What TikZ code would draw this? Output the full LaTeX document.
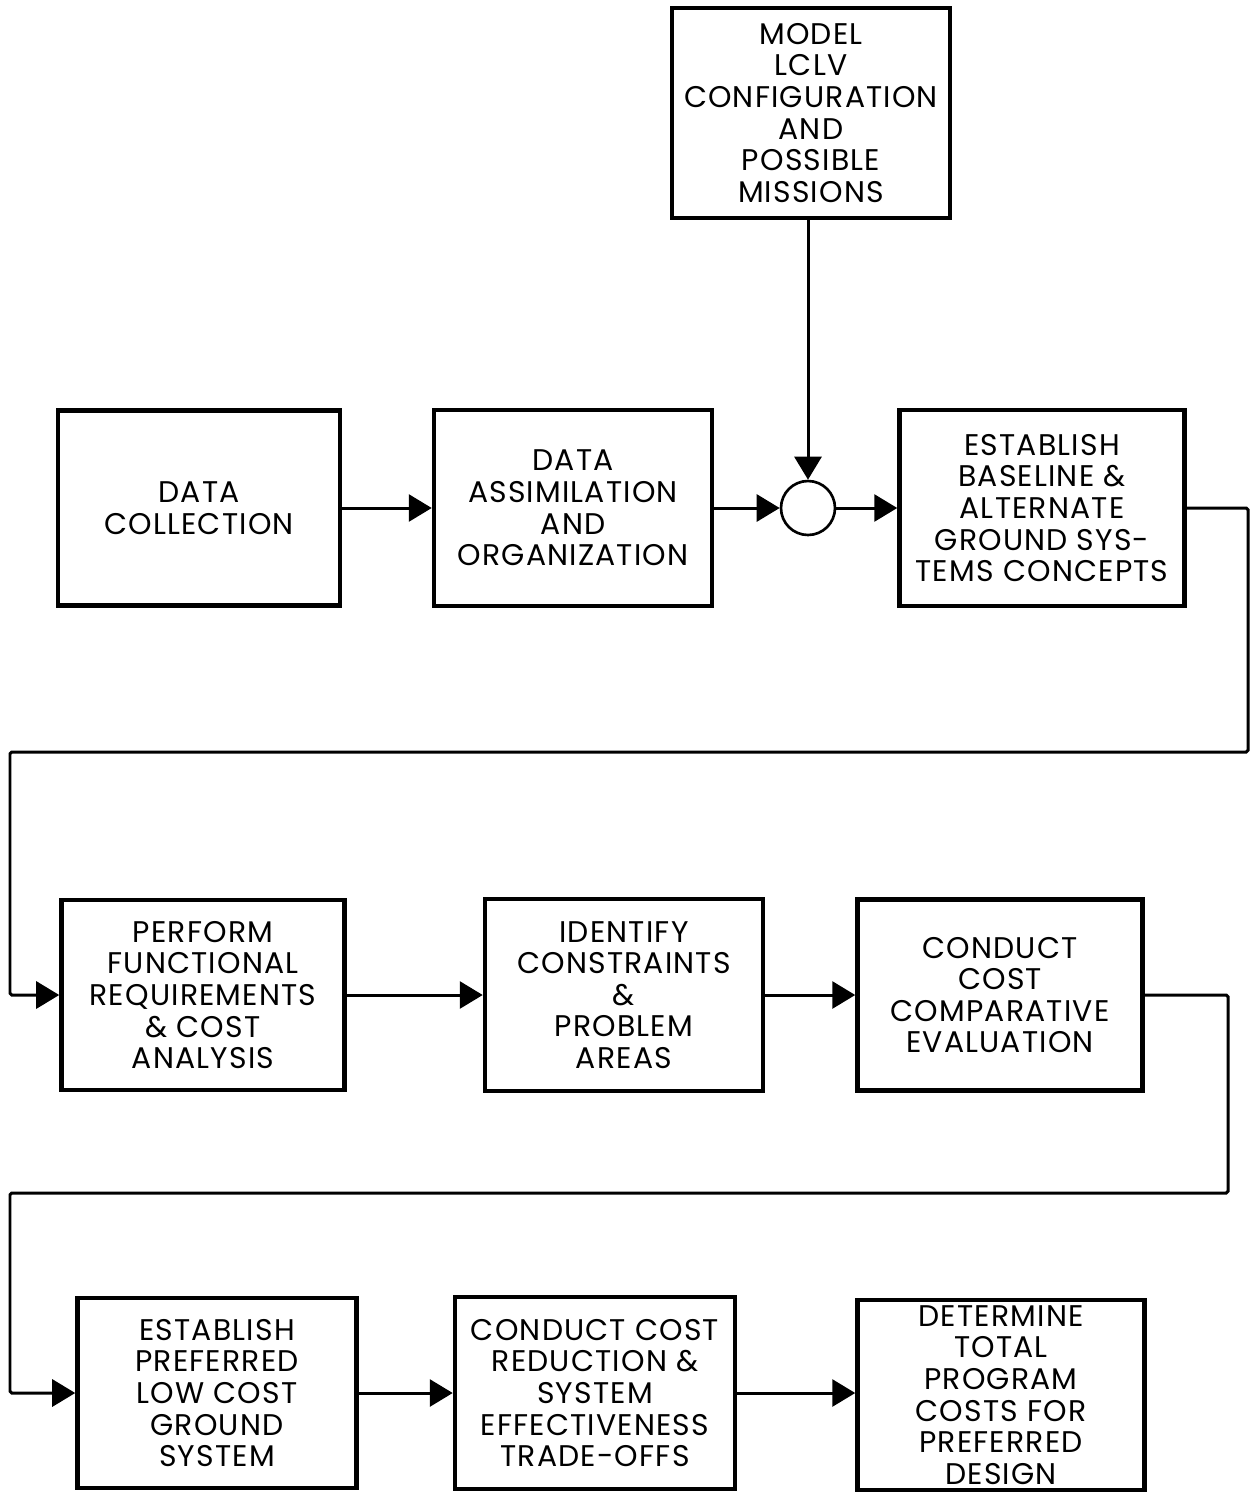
\documentclass[tikz,border=0pt]{standalone}
\usepackage{fontspec}
\setmainfont{Poppins}[LetterSpace=4]
\usetikzlibrary{arrows.meta}

\tikzset{
  blk/.style={draw, line width=2.6pt, align=center, inner sep=0pt,
    font=\fontsize{17}{18}\selectfont},
  sumpt/.style={draw, circle, line width=1.5pt, minimum size=1.08cm, inner sep=0pt},
  flow/.style={line width=1.7pt, -{Triangle[length=0.46cm,width=0.54cm]}},
}

\begin{document}
\begin{tikzpicture}[x=0.02cm, y=-0.02cm]
    \useasboundingbox (0,0) rectangle (1259,1495);
    % Top input
    \node[blk, minimum width=5.56cm, minimum height=4.2cm] (model) at (811,113)
        {MODEL\\LCLV\\CONFIGURATION\\AND\\POSSIBLE\\MISSIONS};
    % Row 1
    \node[blk, minimum width=5.64cm, minimum height=3.9cm] (dcoll) at (199,508)
        {DATA\\COLLECTION};
    \node[blk, minimum width=5.56cm, minimum height=3.92cm] (dassim) at (573,508)
        {DATA\\ASSIMILATION\\AND\\ORGANIZATION};
    \node[sumpt] (sum) at (808,508) {};
    \node[blk, minimum width=5.7cm, minimum height=3.92cm] (base) at (1042,508)
        {ESTABLISH\\BASELINE \&\\ALTERNATE\\GROUND SYS-\\TEMS CONCEPTS};
    % Row 2
    \node[blk, minimum width=5.66cm, minimum height=3.8cm] (perf) at (203,995)
        {PERFORM\\FUNCTIONAL\\REQUIREMENTS\\\& COST\\ANALYSIS};
    \node[blk, minimum width=5.56cm, minimum height=3.84cm] (ident) at (624,995)
        {IDENTIFY\\CONSTRAINTS\\\&\\PROBLEM\\AREAS};
    \node[blk, minimum width=5.7cm, minimum height=3.82cm] (comp) at (1000,995)
        {CONDUCT\\COST\\COMPARATIVE\\EVALUATION};
    % Row 3
    \node[blk, minimum width=5.58cm, minimum height=3.8cm] (pref) at (217,1393)
        {ESTABLISH\\PREFERRED\\LOW COST\\GROUND\\SYSTEM};
    \node[blk, minimum width=5.6cm, minimum height=3.84cm] (trade) at (595,1393)
        {CONDUCT COST\\REDUCTION \&\\SYSTEM\\EFFECTIVENESS\\TRADE-OFFS};
    \node[blk, minimum width=5.74cm, minimum height=3.8cm] (total) at (1001,1395)
        {DETERMINE\\TOTAL\\PROGRAM\\COSTS FOR\\PREFERRED\\DESIGN};
    % Return lines
    \coordinate (r1) at (1248,752);
    \coordinate (l1) at (10,752);
    \coordinate (r2) at (1228,1193);
    \coordinate (l2) at (10,1193);
    % Connectors
    \draw[flow] (model.south -| sum.north) -- (sum.north);
    \draw[flow] (dcoll) -- (dassim);
    \draw[flow] (dassim) -- (sum);
    \draw[flow] (sum) -- (base);
    \draw[flow, rounded corners=1pt] (base.east) -| (r1) -- (l1) |- (perf.west);
    \draw[flow] (perf) -- (ident);
    \draw[flow] (ident) -- (comp);
    \draw[flow, rounded corners=1pt] (comp.east) -| (r2) -- (l2) |- (pref.west);
    \draw[flow] (pref) -- (trade);
    \draw[flow] (trade.east) -- (trade.east -| total.west);
\end{tikzpicture}
\end{document}
